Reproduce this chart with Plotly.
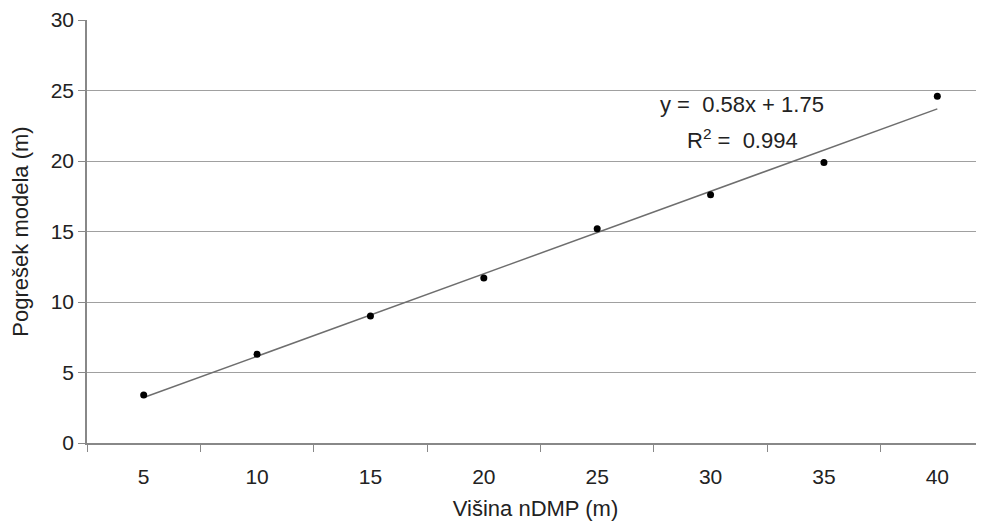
import numpy as np
import plotly.graph_objects as go

categories = ["5", "10", "15", "20", "25", "30", "35", "40"]
heights = [5, 10, 15, 20, 25, 30, 35, 40]
errors = [3.4, 6.3, 9.0, 11.7, 15.2, 17.6, 19.9, 24.6]
y_ticks = [0, 5, 10, 15, 20, 25, 30]
eq_text = "y =  0.58x + 1.75"
r2_text = "R<sup>2</sup> =  0.994"

idx = np.arange(1, len(categories) + 1)
slope, intercept = np.polyfit(heights, errors, 1)
trend = [slope * h + intercept for h in heights]

font = "Liberation Sans, Arial, sans-serif"
fs_tick = 21
fs_title = 22
fig = go.Figure()
fig.add_trace(go.Scatter(x=idx, y=trend, mode="lines",
                         line=dict(color="#6e6e6e", width=1.5),
                         hoverinfo="skip", showlegend=False))
fig.add_trace(go.Scatter(x=idx, y=errors, mode="markers",
                         marker=dict(color="black", size=7),
                         showlegend=False))

fig.add_annotation(x=6.28, y=24.0, xref="x", yref="y", text=eq_text,
                   showarrow=False, font=dict(family=font, size=fs_title, color="#222"))
fig.add_annotation(x=6.28, y=21.55, xref="x", yref="y", text=r2_text,
                   showarrow=False, font=dict(family=font, size=fs_title, color="#222"))

# page body has an 8px margin, so the figure is sized/offset accordingly
fig.update_layout(
    width=976, height=519,
    margin=dict(l=79, r=0, t=12, b=84),
    plot_bgcolor="white", paper_bgcolor="white",
    font=dict(family=font, size=fs_tick, color="#222"),
    xaxis=dict(range=[0.5, 8.5 - 10 / 113.3], tickmode="array",
               tickvals=list(idx), ticktext=categories, ticks="",
               ticklabelstandoff=14,
               showgrid=False, zeroline=False, showline=True,
               linecolor="#888", linewidth=1.5, automargin=False,
               minor=dict(tick0=0.5, dtick=1, ticks="outside", ticklen=7,
                          tickcolor="#888", showgrid=False),
               title=dict(text="Višina nDMP (m)", standoff=14,
                          font=dict(family=font, size=fs_title))),
    yaxis=dict(range=[0, 30], tickmode="array", tickvals=y_ticks,
               ticks="outside", ticklen=7, tickcolor="#888",
               showgrid=True, gridcolor="#a0a0a0", gridwidth=1,
               zeroline=False, showline=True, linecolor="#888", linewidth=1.5,
               automargin=False,
               title=dict(text="Pogrešek modela (m)", standoff=16,
                          font=dict(family=font, size=fs_title))),
)
fig.write_html("out.html")
